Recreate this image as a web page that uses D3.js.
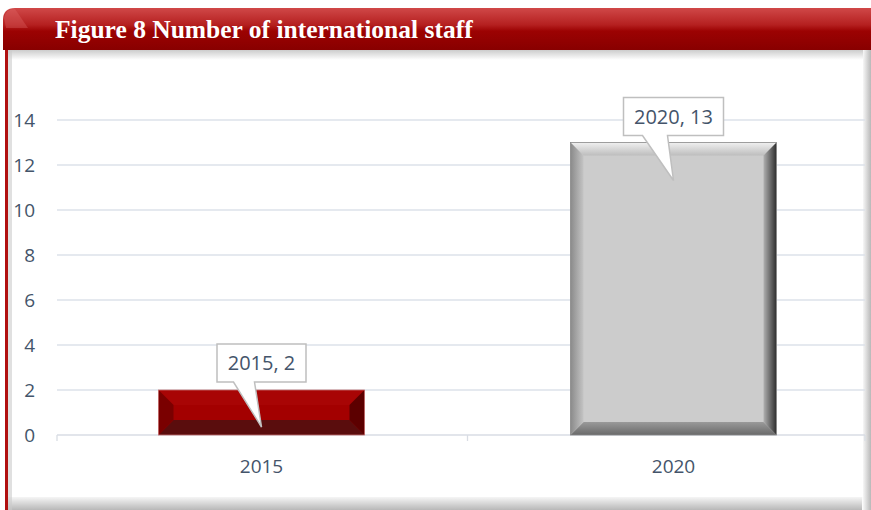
<!DOCTYPE html>
<html><head><meta charset="utf-8">
<script src="https://cdn.jsdelivr.net/npm/d3@7"></script>
<style>html,body{margin:0;padding:0;background:#fff;}svg{display:block;}</style>
</head><body>
<script>
const categories = ["2015", "2020"];
const values = [2, 13];
const yTicks = [0, 2, 4, 6, 8, 10, 12, 14];
const title = "Figure 8 Number of international staff";

const W = 871, H = 510;
const svg = d3.select("body").append("svg").attr("width", W).attr("height", H);
const defs = svg.append("defs");

function lg(id, dir, stops){
  const g = defs.append("linearGradient").attr("id",id)
    .attr("x1",0).attr("y1",0).attr("x2",dir==="h"?1:0).attr("y2",dir==="v"?1:0);
  stops.forEach(s=>g.append("stop").attr("offset",s[0]).attr("stop-color",s[1]));
}
lg("banner","v",[["0%","#d04848"],["40%","#b52020"],["55%","#9c0202"],["100%","#880000"]]);
lg("shadowB","v",[["0%","#fff"],["100%","#b8b8b8"]]);
lg("shadowR","h",[["0%","#fff"],["100%","#b8b8b8"]]);
lg("shadowT","v",[["0%","#aaa"],["100%","#fff"]]);
lg("gTop","v",[["0%","#f0f0f0"],["100%","#bdbdbd"]]);
lg("gBot","v",[["0%","#9a9a9a"],["100%","#6a6a6a"]]);
lg("gLeft","h",[["0%","#8a8a8a"],["100%","#c4c4c4"]]);
lg("gRight","h",[["0%","#b0b0b0"],["100%","#2e2e2e"]]);

// frame
svg.append("rect").attr("x",8).attr("y",495).attr("width",863).attr("height",15).attr("fill","url(#shadowB)");
svg.append("rect").attr("x",862).attr("y",50).attr("width",9).attr("height",460).attr("fill","url(#shadowR)");
svg.append("rect").attr("x",8).attr("y",50).attr("width",855).attr("height",447).attr("fill","#fff");
svg.append("rect").attr("x",8).attr("y",50).attr("width",855).attr("height",10).attr("fill","url(#shadowT)").attr("opacity",0.6);
svg.append("rect").attr("x",5).attr("y",40).attr("width",3).attr("height",470).attr("fill","#b01010");
svg.append("rect").attr("x",8).attr("y",40).attr("width",4).attr("height",470).attr("fill","#ccc").attr("opacity",0.6);

// banner
svg.append("path").attr("d","M3,50 L3,20 Q3,8 15,8 L871,8 L871,50 Z").attr("fill","url(#banner)");
svg.append("path").attr("d","M4,18 Q6,9 15,9 L28,28 L6,28 Z").attr("fill","#e06a6a").attr("opacity",0.35);
svg.append("text").attr("x",55).attr("y",38).attr("fill","#fff")
  .attr("font-family","'Liberation Serif','DejaVu Serif',serif").attr("font-size",25.5).attr("font-weight","bold")
  .text(title);

// chart
const x0 = 57, x1 = 865, yTop = 120, yBot = 435;
const y = d3.scaleLinear().domain([0,14]).range([yBot,yTop]);
const x = d3.scaleBand().domain(categories).range([55.5,879.5]).paddingInner(0.5).paddingOuter(0.25);
const font = "'Open Sans','Liberation Sans',sans-serif";

const grid = svg.append("g");
grid.selectAll("line").data(yTicks.filter(t=>t>0)).join("line")
  .attr("x1",x0).attr("x2",x1).attr("y1",d=>y(d)).attr("y2",d=>y(d))
  .attr("stroke","#dde2ea").attr("stroke-width",1.3);

// x axis
const xa = svg.append("g");
xa.append("line").attr("x1",x0).attr("x2",x1).attr("y1",yBot).attr("y2",yBot).attr("stroke","#d9dde4").attr("stroke-width",1.3);
const bandEdges = [x0, (x(categories[0])+x(categories[1])+x.bandwidth())/2, x1];
xa.selectAll("line.tk").data(bandEdges).join("line").attr("class","tk")
  .attr("x1",d=>d).attr("x2",d=>d).attr("y1",yBot).attr("y2",yBot+6).attr("stroke","#d9dde4").attr("stroke-width",1.3);
xa.selectAll("text").data(categories).join("text")
  .attr("x",d=>x(d)+x.bandwidth()/2).attr("y",473).attr("text-anchor","middle")
  .attr("font-family",font).attr("font-size",19).attr("fill","#44546a")
  .text(d=>d);

// y labels
svg.append("g").selectAll("text").data(yTicks).join("text")
  .attr("x",35).attr("y",d=>y(d)+7).attr("text-anchor","end")
  .attr("font-family",font).attr("font-size",19).attr("fill","#44546a")
  .text(d=>d);

// bevel bars
const styles = [
  {face:"#a30000", top:"#a80505", bottom:"#5a0d0d", left:"#7a0000", right:"#5c0000", edge:"#c47070", b:15},
  {face:"#cccccc", top:"url(#gTop)", bottom:"url(#gBot)", left:"url(#gLeft)", right:"url(#gRight)", edge:"#8a8a8a", b:13}
];
const bars = svg.append("g");
categories.forEach((c,i)=>{
  const bx = x(c), bw = x.bandwidth(), by = y(values[i]), bh = yBot - by;
  const s = styles[i];
  const b = Math.min(s.b, bh/3);
  const g = bars.append("g");
  g.append("rect").attr("x",bx).attr("y",by).attr("width",bw).attr("height",bh).attr("fill",s.face);
  g.append("path").attr("d",`M${bx},${by} L${bx+bw},${by} L${bx+bw-b},${by+b} L${bx+b},${by+b} Z`).attr("fill",s.top);
  g.append("path").attr("d",`M${bx},${by+bh} L${bx+bw},${by+bh} L${bx+bw-b},${by+bh-b} L${bx+b},${by+bh-b} Z`).attr("fill",s.bottom);
  g.append("path").attr("d",`M${bx},${by} L${bx+b},${by+b} L${bx+b},${by+bh-b} L${bx},${by+bh} Z`).attr("fill",s.left);
  g.append("path").attr("d",`M${bx+bw},${by} L${bx+bw-b},${by+b} L${bx+bw-b},${by+bh-b} L${bx+bw},${by+bh} Z`).attr("fill",s.right);
  g.append("rect").attr("x",bx).attr("y",by).attr("width",bw).attr("height",bh).attr("fill","none").attr("stroke",s.edge).attr("stroke-width",0.8);
});

// callouts
const callouts = svg.append("g");
const boxH = 38, boxW = [89, 100];
const boxBottoms = [y(values[0]) - 8, y(values[1]) - 7];
const tipDy = [yBot - 8, y(values[1]) + 38];
const baseOff = [[-28,-7],[-31,-6]];
categories.forEach((c,i)=>{
  const cx = x(c)+x.bandwidth()/2;
  const w = boxW[i], bl = cx - w/2, bb = boxBottoms[i], bt = bb - boxH;
  const tx = cx, ty = tipDy[i];
  const p1 = cx + baseOff[i][0], p2 = cx + baseOff[i][1];
  callouts.append("path")
    .attr("d",`M${bl},${bt} L${bl+w},${bt} L${bl+w},${bb} L${p2},${bb} L${tx},${ty} L${p1},${bb} L${bl},${bb} Z`)
    .attr("fill","#fff").attr("stroke","#bfbfbf").attr("stroke-width",1.5);
  callouts.append("text").attr("x",cx).attr("y",bt+26).attr("text-anchor","middle")
    .attr("font-family",font).attr("font-size",20).attr("fill","#44546a")
    .text(`${c}, ${values[i]}`);
});
</script>
</body></html>
